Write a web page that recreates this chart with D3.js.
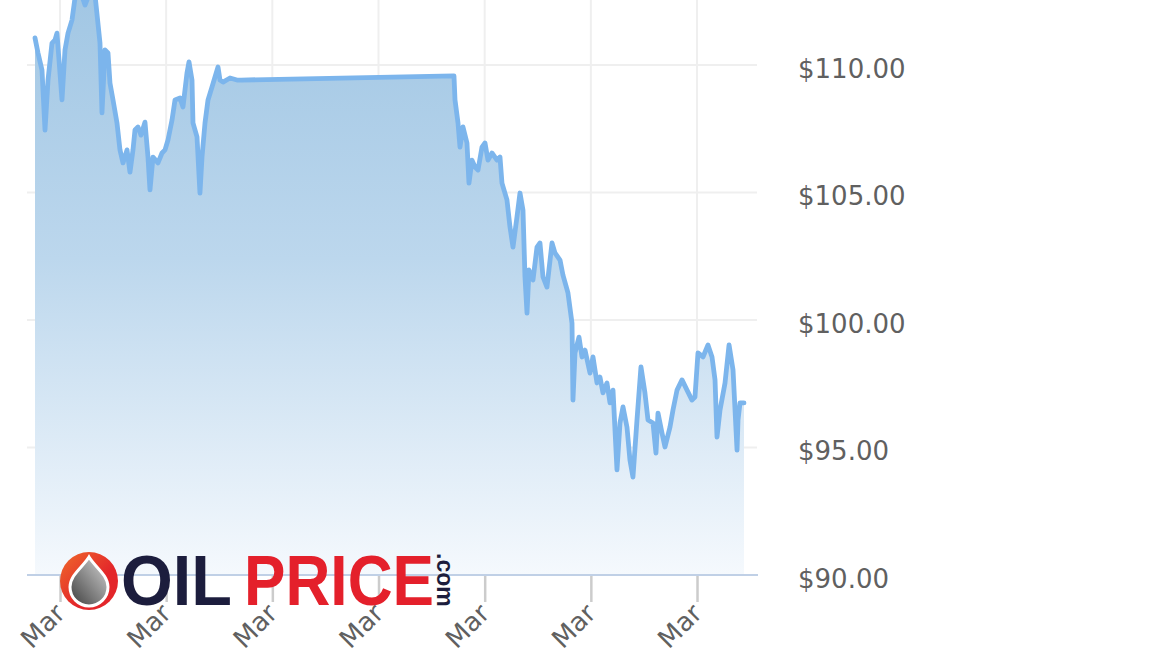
<!DOCTYPE html>
<html>
<head>
<meta charset="utf-8">
<script src="https://cdn.jsdelivr.net/npm/d3@7"></script>
<style>
  html, body { margin: 0; padding: 0; background: #ffffff; }
  svg { display: block; }
</style>
</head>
<body>
<svg id="chart" width="1152" height="648"></svg>
<script>
// ---------------- DATA ----------------
// Hours after 10 Mar 2022 00:00 (UTC) for each quote
const hoursFromMar10 = [
  -5.65, -4.97, -4.07, -3.39, -2.71, -1.81, -1.13, -0.68, 0.45, 1.13,
  1.81, 2.71, 3.39, 4.52, 5.65, 6.78, 7.91, 9.04, 9.49, 10.17,
  10.85, 11.30, 11.98, 12.88, 13.56, 14.24, 15.15, 15.82, 16.50, 16.95,
  17.63, 18.31, 19.21, 19.89, 20.34, 21.02, 22.15, 23.06, 23.74, 24.41,
  25.32, 26.00, 27.13, 27.80, 28.71, 29.16, 29.84, 30.06, 30.97, 31.64,
  32.10, 32.78, 33.46, 34.36, 35.04, 35.72, 36.17, 36.85, 38.43, 40.01,
  40.92,
  89.06, 89.29, 89.97, 90.42, 91.10, 92.00, 92.45, 93.13, 93.81, 94.49,
  95.39, 96.07, 96.75, 97.65, 98.78, 99.46, 99.91, 101.04, 101.72, 102.40,
  103.30, 103.98, 104.66, 105.11, 105.57, 106.02, 106.92, 107.83, 108.50, 109.18,
  110.08, 111.22, 111.89, 113.03, 113.70, 114.83, 115.74, 115.96, 116.42, 117.32,
  118.00, 118.68, 119.81, 120.48, 121.39, 122.07, 122.74, 123.65, 124.33, 125.01,
  125.91, 126.59, 127.27, 128.17, 128.84, 129.52, 130.43, 131.33, 132.23, 132.92,
  134.05, 134.72, 135.18, 136.08, 136.76, 137.89, 138.57, 139.48, 140.61, 141.74,
  142.86, 143.54, 144.22, 145.35, 146.48, 147.39, 148.07, 148.52, 149.20, 150.33,
  151.24, 152.14, 153.05, 153.27, 153.72, 154.62
];
const prices = [
  111.06, 110.47, 109.80, 107.45, 109.41, 110.86, 110.98, 111.25, 108.63, 110.59,
  111.25, 111.76, 112.63, 112.94, 112.35, 112.86, 112.75, 110.86, 108.12, 110.59,
  110.47, 109.29, 108.63, 107.73, 106.67, 106.16, 106.67, 105.80, 106.67, 107.45,
  107.57, 107.25, 107.76, 106.39, 105.10, 106.39, 106.16, 106.55, 106.67, 107.06,
  107.84, 108.63, 108.71, 108.35, 109.69, 110.12, 109.41, 107.73, 107.18, 104.98,
  106.39, 107.73, 108.63, 109.14, 109.53, 109.92, 109.41, 109.33, 109.49, 109.41,
  109.41,
  109.57, 108.63, 107.73, 106.78, 107.57, 106.94, 105.37, 106.27, 106.00, 105.88,
  106.78, 106.94, 106.27, 106.55, 106.27, 106.39, 105.37, 104.71, 103.65, 102.86,
  104.04, 104.98, 104.31, 101.69, 100.27, 101.96, 101.57, 102.86, 103.02, 101.69,
  101.29, 103.02, 102.63, 102.35, 101.76, 101.06, 99.88, 96.86, 98.71, 99.33,
  98.55, 98.82, 97.92, 98.55, 97.53, 97.76, 97.14, 97.53, 96.75, 97.25,
  94.12, 95.96, 96.59, 95.80, 94.51, 93.84, 96.08, 98.16, 97.14, 96.08,
  95.96, 94.78, 96.35, 95.57, 95.02, 95.80, 96.47, 97.25, 97.65, 97.25,
  96.86, 96.98, 98.71, 98.55, 99.02, 98.55, 97.65, 95.41, 96.47, 97.53,
  99.02, 98.04, 94.90, 96.08, 96.75, 96.75
];
const yTickValues = [90, 95, 100, 105, 110, 115];
const xTickDays = ["2022-03-10", "2022-03-11", "2022-03-12", "2022-03-13", "2022-03-14", "2022-03-15", "2022-03-16"];
const logoWords = ["OIL", "PRICE", ".com"];

// ---------------- LAYOUT ----------------
const svg = d3.select("#chart");
const base = Date.UTC(2022, 2, 10);
const H = 3600e3;
const data = hoursFromMar10.map((h, i) => ({ t: new Date(base + h * H), v: prices[i] }));

const plot = { left: 27, right: 757, top: 0, bottom: 575 };
const x = d3.scaleUtc()
  .domain([new Date(base - 7.46 * H), new Date(base + 157.56 * H)])
  .range([plot.left, plot.right]);
const y = d3.scaleLinear().domain([90, 110]).range([575, 65]);

const lineColor = "#7cb5ec";
const labelColor = "#606060";
const labelFont = "'DejaVu Sans', Verdana, sans-serif";

const defs = svg.append("defs");
const grad = defs.append("linearGradient")
  .attr("id", "areaGrad").attr("gradientUnits", "userSpaceOnUse")
  .attr("x1", 0).attr("x2", 0).attr("y1", 0).attr("y2", plot.bottom);
grad.append("stop").attr("offset", 0).attr("stop-color", "#a2c7e4");
grad.append("stop").attr("offset", 0.45).attr("stop-color", "#bcd7ed");
grad.append("stop").attr("offset", 1).attr("stop-color", "#f5f9fd");

const xTicks = xTickDays.map(d => new Date(d + "T00:00:00Z"));

// grid lines
svg.append("g").selectAll("line.h")
  .data(yTickValues.filter(v => y(v) >= 0))
  .join("line")
  .attr("x1", plot.left).attr("x2", plot.right)
  .attr("y1", d => y(d)).attr("y2", d => y(d))
  .attr("stroke", "#efefef").attr("stroke-width", 2);

svg.append("g").selectAll("line.v")
  .data(xTicks)
  .join("line")
  .attr("x1", d => x(d)).attr("x2", d => x(d))
  .attr("y1", plot.top).attr("y2", plot.bottom)
  .attr("stroke", "#efefef").attr("stroke-width", 2);

// area + line
const area = d3.area().x(d => x(d.t)).y0(plot.bottom).y1(d => y(d.v));
const line = d3.line().x(d => x(d.t)).y(d => y(d.v));

svg.append("path").datum(data)
  .attr("d", area)
  .attr("fill", "url(#areaGrad)");

svg.append("path").datum(data)
  .attr("d", line)
  .attr("fill", "none")
  .attr("stroke", lineColor)
  .attr("stroke-width", 4.8)
  .attr("stroke-linejoin", "round")
  .attr("stroke-linecap", "round");

// x axis
const xAxis = d3.axisBottom(x)
  .tickValues(xTicks)
  .tickSize(27)
  .tickFormat(d3.utcFormat("%-d. %b"));
const gx = svg.append("g").attr("transform", `translate(0,${plot.bottom})`).call(xAxis);
gx.select(".domain").remove();
gx.selectAll(".tick line").attr("stroke", "#cccccc").attr("stroke-width", 2.5);
gx.selectAll(".tick text")
  .attr("fill", labelColor)
  .attr("font-family", labelFont)
  .attr("font-size", 26)
  .attr("text-anchor", "end")
  .attr("dy", null)
  .attr("y", null)
  .attr("transform", "translate(6,40) rotate(-45)");
svg.append("line")
  .attr("x1", plot.left).attr("x2", plot.right + 1)
  .attr("y1", plot.bottom).attr("y2", plot.bottom)
  .attr("stroke", "#c0d0e6").attr("stroke-width", 2);

// y axis (right)
const yAxis = d3.axisRight(y)
  .tickValues(yTickValues.filter(v => y(v) >= 0))
  .tickSize(0)
  .tickPadding(0)
  .tickFormat(d => "$" + d3.format(".2f")(d));
const gy = svg.append("g").attr("transform", "translate(798,4)").call(yAxis);
gy.select(".domain").remove();
gy.selectAll(".tick text")
  .attr("fill", labelColor)
  .attr("font-family", labelFont)
  .attr("font-size", 26);

// ---------------- LOGO ----------------
const logo = svg.append("g");
const rg = defs.append("linearGradient").attr("id", "ringGrad")
  .attr("x1", 0).attr("y1", 0).attr("x2", 1).attr("y2", 1);
rg.append("stop").attr("offset", 0).attr("stop-color", "#ef6a2b");
rg.append("stop").attr("offset", 0.6).attr("stop-color", "#e3262a");
const dg = defs.append("linearGradient").attr("id", "dropGrad")
  .attr("x1", 1).attr("y1", 0).attr("x2", 0).attr("y2", 1);
dg.append("stop").attr("offset", 0).attr("stop-color", "#d8d8d8");
dg.append("stop").attr("offset", 1).attr("stop-color", "#3c3c3c");

const cx = 89, cy = 581;
logo.append("circle").attr("cx", cx).attr("cy", cy).attr("r", 29).attr("fill", "url(#ringGrad)");
const dropPath = `M ${cx} ${cy - 24} C ${cx + 6} ${cy - 14}, ${cx + 19} ${cy - 6}, ${cx + 19} ${cy + 6}
  A 19 19 0 0 1 ${cx - 19} ${cy + 6} C ${cx - 19} ${cy - 6}, ${cx - 6} ${cy - 14}, ${cx} ${cy - 24} Z`;
logo.append("path").attr("d", dropPath).attr("fill", "url(#dropGrad)")
  .attr("stroke", "#ffffff").attr("stroke-width", 3);

logo.append("text")
  .attr("x", 121).attr("y", 605)
  .attr("font-family", "'Liberation Sans', Arial, sans-serif")
  .attr("font-weight", "bold").attr("font-size", 70)
  .attr("textLength", 111).attr("lengthAdjust", "spacingAndGlyphs")
  .attr("fill", "#1c1d3d").text(logoWords[0]);
logo.append("text")
  .attr("x", 244).attr("y", 605)
  .attr("font-family", "'Liberation Sans', Arial, sans-serif")
  .attr("font-weight", "bold").attr("font-size", 70)
  .attr("textLength", 190).attr("lengthAdjust", "spacingAndGlyphs")
  .attr("fill", "#e4202b").text(logoWords[1]);
logo.append("text")
  .attr("transform", "translate(437,553) rotate(90)")
  .attr("font-family", "'Liberation Sans', Arial, sans-serif")
  .attr("font-weight", "bold").attr("font-size", 23)
  .attr("fill", "#1c1d3d").text(logoWords[2]);
</script>
</body>
</html>
